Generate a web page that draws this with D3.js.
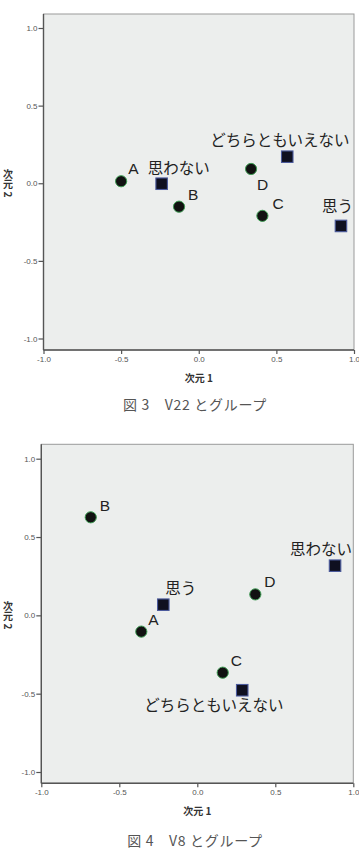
<!DOCTYPE html>
<html>
<head>
<meta charset="utf-8">
<script src="https://cdn.jsdelivr.net/npm/d3@7"></script>
<style>
    html, body { margin: 0; padding: 0; background: #fff; }
    svg { display: block; }
</style>
</head>
<body>
<div id="chart"></div>
<script>
// Correspondence plots: groups A-D and answer categories

// Group and category names
var groupNames = ["A", "B", "C", "D"];
var categoryNames = ["思う", "思わない", "どちらともいえない"];

// Figure 3 (V22) coordinates
var v22GroupDim1 = [-0.50, -0.127, 0.41, 0.337];
var v22GroupDim2 = [0.013, -0.151, -0.21, 0.092];
var v22CatDim1 = [0.916, -0.239, 0.570];
var v22CatDim2 = [-0.275, -0.003, 0.171];

// Figure 4 (V8) coordinates
var v8GroupDim1 = [-0.359, -0.683, 0.163, 0.372];
var v8GroupDim2 = [-0.104, 0.626, -0.366, 0.134];
var v8CatDim1 = [-0.218, 0.883, 0.288];
var v8CatDim2 = [0.068, 0.317, -0.478];

// Axis ticks and titles
var tickValues = [-1.0, -0.5, 0.0, 0.5, 1.0];
var xTitle = "次元 1";
var yTitle = "次元 2";
var captions = ["図 3　V22 とグループ", "図 4　V8 とグループ"];

var width = 359, height = 858;
var jpFont = "'Noto Sans CJK JP', 'Noto Sans', sans-serif";
var latinFont = "'Liberation Sans', Arial, sans-serif";

var svg = d3.select("#chart")
    .append("svg")
    .attr("width", width)
    .attr("height", height);

// Label offsets (left edge, baseline) from each marker
var labelOffsets1 = {
    "A": [7, -7], "B": [9, -7], "C": [10, -7], "D": [6, 21],
    "思う": [-19, -14], "思わない": [-14, -10], "どちらともいえない": [-77, -11]
};
var labelOffsets2 = {
    "A": [7, -7], "B": [9, -6], "C": [8, -7], "D": [9, -7],
    "思う": [2, -11], "思わない": [-45, -11], "どちらともいえない": [-98, 21]
};

drawPlot({
    frame: { left: 43.5, right: 354, top: 14, bottom: 350 },
    yRange: [338.5, 28],
    groups: [v22GroupDim1, v22GroupDim2],
    cats: [v22CatDim1, v22CatDim2],
    offsets: labelOffsets1,
    caption: captions[0],
    captionY: 410
});

drawPlot({
    frame: { left: 41.3, right: 353.3, top: 444.3, bottom: 783.3 },
    yRange: [772, 458.7],
    groups: [v8GroupDim1, v8GroupDim2],
    cats: [v8CatDim1, v8CatDim2],
    offsets: labelOffsets2,
    caption: captions[1],
    captionY: 846
});

function drawPlot(cfg) {
    var f = cfg.frame;
    var g = svg.append("g");

    var x = d3.scaleLinear().domain([-1, 1]).range([f.left, f.right]);
    var y = d3.scaleLinear().domain([-1, 1]).range(cfg.yRange);

    // Plot background and frame
    g.append("rect")
        .attr("x", f.left)
        .attr("y", f.top)
        .attr("width", f.right - f.left)
        .attr("height", f.bottom - f.top)
        .attr("fill", "#eceeed")
        .attr("stroke", "#9a9a9a")
        .attr("stroke-width", 1);

    // Axes
    var fmt = function(d) { return d.toFixed(1); };

    var yAxis = g.append("g")
        .attr("transform", "translate(" + f.left + ",0)")
        .call(d3.axisLeft(y).tickValues(tickValues).tickFormat(fmt).tickSize(5).tickPadding(1));

    var xAxis = g.append("g")
        .attr("transform", "translate(0," + f.bottom + ")")
        .call(d3.axisBottom(x).tickValues(tickValues).tickFormat(fmt).tickSize(4).tickPadding(2));

    [yAxis, xAxis].forEach(function(ax) {
        ax.select(".domain").remove();
        ax.selectAll(".tick line").attr("stroke", "#555").attr("stroke-width", 1.2);
        ax.selectAll(".tick text")
            .attr("fill", "#555")
            .style("font-family", latinFont)
            .style("font-size", "8px");
    });

    // Darker left and bottom axis lines
    g.append("line")
        .attr("x1", f.left).attr("x2", f.left)
        .attr("y1", f.top).attr("y2", f.bottom)
        .attr("stroke", "#555").attr("stroke-width", 1.4);
    g.append("line")
        .attr("x1", f.left).attr("x2", f.right)
        .attr("y1", f.bottom).attr("y2", f.bottom)
        .attr("stroke", "#555").attr("stroke-width", 1.4);

    // Axis titles
    g.append("text")
        .attr("x", x(0))
        .attr("y", f.bottom + 32)
        .attr("text-anchor", "middle")
        .attr("fill", "#333")
        .style("font-family", jpFont)
        .style("font-size", "10px")
        .style("font-weight", "bold")
        .text(xTitle);

    g.append("text")
        .attr("x", 8)
        .attr("y", y(0))
        .attr("text-anchor", "middle")
        .attr("fill", "#333")
        .style("writing-mode", "vertical-rl")
        .style("font-family", jpFont)
        .style("font-size", "10px")
        .style("font-weight", "bold")
        .text(yTitle);

    // Category markers (squares)
    var cats = categoryNames.map(function(name, i) {
        return { name: name, d1: cfg.cats[0][i], d2: cfg.cats[1][i] };
    });
    var groups = groupNames.map(function(name, i) {
        return { name: name, d1: cfg.groups[0][i], d2: cfg.groups[1][i] };
    });

    var sq = 11.5;
    g.selectAll(".cat")
        .data(cats)
        .enter()
        .append("rect")
        .attr("class", "cat")
        .attr("x", function(d) { return x(d.d1) - sq / 2; })
        .attr("y", function(d) { return y(d.d2) - sq / 2; })
        .attr("width", sq)
        .attr("height", sq)
        .attr("fill", "#0f1020")
        .attr("stroke", "#4b5a9c")
        .attr("stroke-width", 1.1);

    g.selectAll(".grp")
        .data(groups)
        .enter()
        .append("circle")
        .attr("class", "grp")
        .attr("cx", function(d) { return x(d.d1); })
        .attr("cy", function(d) { return y(d.d2); })
        .attr("r", 5.6)
        .attr("fill", "#111")
        .attr("stroke", "#3f9c54")
        .attr("stroke-width", 1);

    // Point labels
    g.selectAll(".lbl")
        .data(groups.concat(cats))
        .enter()
        .append("text")
        .attr("class", "lbl")
        .attr("x", function(d) { return x(d.d1) + cfg.offsets[d.name][0]; })
        .attr("y", function(d) { return y(d.d2) + cfg.offsets[d.name][1]; })
        .attr("fill", "#222")
        .style("font-family", function(d) {
            return d.name.length === 1 ? latinFont : jpFont;
        })
        .style("font-size", "15.5px")
        .text(function(d) { return d.name; });

    // Caption
    g.append("text")
        .attr("x", 195)
        .attr("y", cfg.captionY)
        .attr("text-anchor", "middle")
        .attr("fill", "#555")
        .style("font-family", jpFont)
        .style("font-size", "14px")
        .style("letter-spacing", "0.7px")
        .text(cfg.caption);
}
</script>
</body>
</html>
